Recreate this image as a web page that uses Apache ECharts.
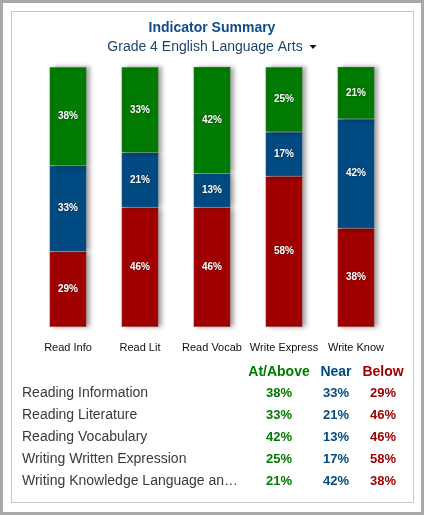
<!DOCTYPE html>
<html>
<head>
<meta charset="utf-8">
<script src="https://cdn.jsdelivr.net/npm/echarts@6/dist/echarts.min.js"></script>
<style>
  html, body { margin: 0; padding: 0; background: #fff; }
  .frame { position: absolute; left: 0; top: 0; width: 424px; height: 515px; box-sizing: border-box; border: 3px solid #a8a8a8; background: #fff; }
  .card { position: absolute; left: 11px; top: 11px; width: 403px; height: 492px; box-sizing: border-box; border: 1px solid #c8c8c8; }
  #chart { position: absolute; left: 0; top: 0; width: 424px; height: 515px; }
</style>
</head>
<body>
<div class="frame"></div>
<div class="card"></div>
<div id="chart"></div>
<script>
  // short names under the bars, full names in the table
  const categories = ['Read Info', 'Read Lit', 'Read Vocab', 'Write Express', 'Write Know'];
  const fullNames = ['Reading Information', 'Reading Literature', 'Reading Vocabulary',
    'Writing Written Expression', 'Writing Knowledge Language and Conventions'];
  const atAbove = [38, 33, 42, 25, 21];
  const near = [33, 21, 13, 17, 42];
  const below = [29, 46, 46, 58, 38];

  const colors = { at: '#007a00', near: '#004a82', below: '#a00000' };
  const FONT = 'Arial, Liberation Sans';

  let chart = echarts.init(document.getElementById('chart'));

  let segLabel = {
    show: true,
    position: 'inside',
    color: '#fff',
    fontSize: 10,
    fontWeight: 'bold',
    fontFamily: FONT,
    textShadowColor: 'rgba(0,0,0,0.5)',
    textShadowBlur: 2,
    formatter: '{c}%'
  };
  let segStyle = (c) => ({
    color: c,
    borderColor: 'rgba(150,150,150,0.5)',
    borderWidth: 0.5,
    shadowColor: 'rgba(0,0,0,0.4)',
    shadowBlur: 5,
    shadowOffsetX: 4
  });

  // table below the chart
  let cols = [
    { name: 'At/Above', x: 279, color: colors.at, data: atAbove },
    { name: 'Near', x: 336, color: colors.near, data: near },
    { name: 'Below', x: 383, color: colors.below, data: below }
  ];
  let graphics = [];
  cols.forEach(col => {
    graphics.push({
      type: 'text', x: col.x, y: 372, silent: true,
      style: { text: col.name, align: 'center', verticalAlign: 'middle',
        fill: col.color, font: 'bold 14px ' + FONT }
    });
  });
  fullNames.forEach((name, i) => {
    let y = 393 + i * 22;
    graphics.push({
      type: 'text', x: 22, y: y, silent: true,
      style: { text: name, align: 'left', verticalAlign: 'middle', width: 224,
        overflow: 'truncate', ellipsis: '…',
        fill: '#3a3a3a', font: '14px ' + FONT }
    });
    cols.forEach(col => {
      graphics.push({
        type: 'text', x: col.x, y: y, silent: true,
        style: { text: col.data[i] + '%', align: 'center', verticalAlign: 'middle',
          fill: col.color, font: 'bold 13px ' + FONT }
      });
    });
  });

  // subtitle with dropdown arrow
  graphics.push({
    type: 'text', x: 205, y: 47, silent: true,
    style: { text: 'Grade 4 English Language Arts', align: 'center', verticalAlign: 'middle',
      fill: '#1f4470', font: '14px ' + FONT }
  });
  graphics.push({
    type: 'polygon', silent: true,
    shape: { points: [[309.5, 45], [316.5, 45], [313, 49]] },
    style: { fill: '#111' }
  });

  chart.setOption({
    animation: false,
    title: {
      text: 'Indicator Summary',
      left: 'center', top: 16,
      textStyle: { color: '#0f4c8a', fontSize: 14, fontWeight: 'bold', fontFamily: FONT }
    },
    grid: { left: 32, right: 32, top: 67, bottom: 188 },
    xAxis: {
      type: 'category',
      data: categories,
      axisLine: { show: false },
      axisTick: { show: false },
      axisLabel: { interval: 0, color: '#111', fontSize: 11, fontFamily: FONT, margin: 15 }
    },
    yAxis: { type: 'value', min: 0, max: 100, show: false, splitLine: { show: false } },
    series: [
      { name: 'Below', type: 'bar', stack: 'all', barWidth: 37, clip: true, data: below,
        itemStyle: segStyle(colors.below), label: segLabel },
      { name: 'Near', type: 'bar', stack: 'all', barWidth: 37, clip: true, data: near,
        itemStyle: segStyle(colors.near), label: segLabel },
      { name: 'At/Above', type: 'bar', stack: 'all', barWidth: 37, clip: true, data: atAbove,
        itemStyle: segStyle(colors.at), label: segLabel }
    ],
    graphic: graphics
  });
</script>
</body>
</html>
